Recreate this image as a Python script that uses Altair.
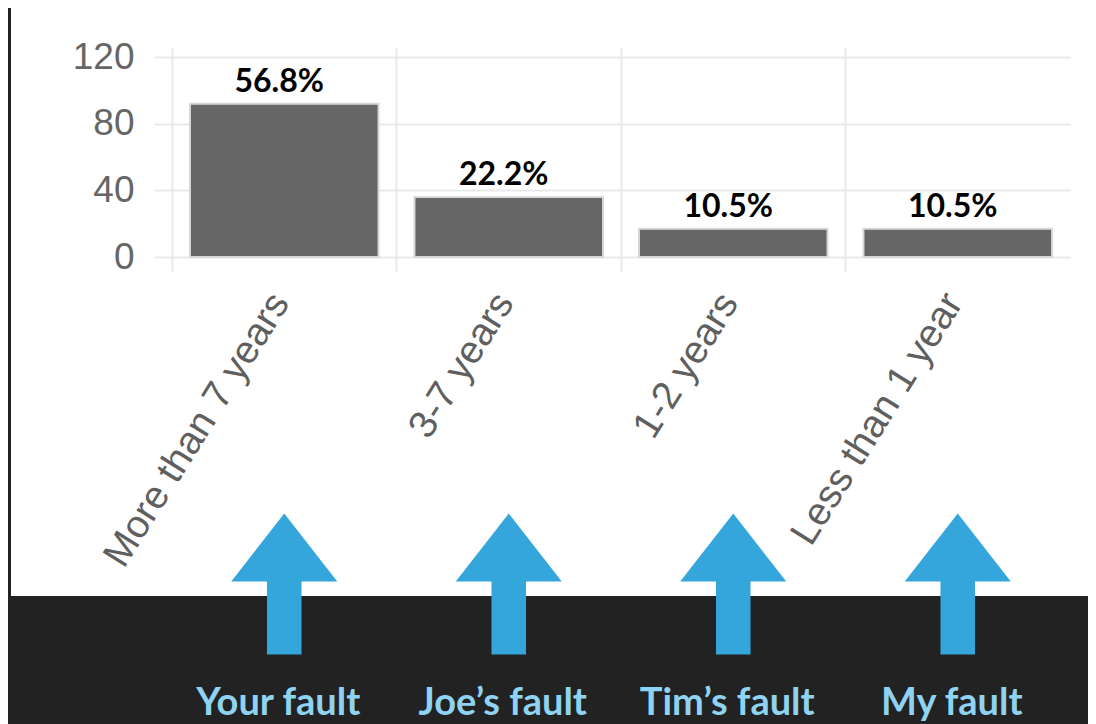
import altair as alt
import pandas as pd

# ---- data ----
periods = ["More than 7 years", "3-7 years", "1-2 years", "Less than 1 year"]
counts = [92, 36, 17, 17]
pct_labels = ["56.8%", "22.2%", "10.5%", "10.5%"]
blame = ["Your fault", "Joe\u2019s fault", "Tim\u2019s fault", "My fault"]
y_ticks = [0, 40, 80, 120]

df = pd.DataFrame({"period": periods, "count": counts, "pct": pct_labels, "blame": blame})
one = pd.DataFrame({"k": [0]})

# ---- styling ----
W, H = 916, 210
GRID = "#e9e9e9"
DARK = "#222222"
ARROW = "#35a6dc"
ARROW_TXT = "#8fd3f2"
ARROW_PATH = ("M0,-1 L0.752,-0.035 L0.245,-0.035 L0.245,1 "
              "L-0.245,1 L-0.245,-0.035 L-0.752,-0.035 Z")

x_scale = alt.Scale(range=[0, 898], paddingInner=0, paddingOuter=0)
y_scale = alt.Scale(domain=[0, 126], nice=False)

x_axis = alt.Axis(
    title=None, domain=False, grid=True, gridColor=GRID, gridWidth=2,
    ticks=True, tickSize=15, tickColor=GRID, tickWidth=2, bandPosition=0,
    labelAngle=-58, labelAlign="right", labelBaseline="middle",
    labelPadding=24, labelOffset=-4, labelFont="Liberation Sans",
    labelFontSize=39, labelColor="#5f5f5f", labelLimit=0, labelOverlap=False,
)
y_axis = alt.Axis(
    title=None, values=y_ticks, domain=False, grid=True, gridColor=GRID,
    gridWidth=2, tickSize=18, tickColor=GRID, tickWidth=2,
    labelFont="Liberation Sans", labelFontSize=37, labelColor="#666666",
    labelPadding=20,
)

x_enc = alt.X("period:N", sort=periods, scale=x_scale, axis=x_axis)

dark_bottom = alt.Chart(one).mark_rect(color=DARK).encode(
    x=alt.value(-164), x2=alt.value(W), y=alt.value(549), y2=alt.value(677)
)
dark_left = alt.Chart(one).mark_rect(color=DARK).encode(
    x=alt.value(-164), x2=alt.value(-161), y=alt.value(-39), y2=alt.value(549)
)

bars = alt.Chart(df).mark_bar(
    color="#666666", stroke="#d8d8d8", strokeWidth=2,
    width=alt.RelativeBandSize(0.84),
).encode(
    x=x_enc,
    y=alt.Y("count:Q", scale=y_scale, axis=y_axis),
)

pct = alt.Chart(df).mark_text(
    font="Lato", fontWeight="bold", fontSize=32, color="#000000",
    dy=-12, dx=-5, baseline="alphabetic",
).encode(x=x_enc, y=alt.Y("count:Q", scale=y_scale, axis=y_axis), text="pct:N")

arrows = alt.Chart(df).mark_point(
    shape=ARROW_PATH, size=19881, filled=True, color=ARROW, opacity=1,
    strokeWidth=0,
).encode(x=x_enc, y=alt.value(537))

arrow_txt = alt.Chart(df).mark_text(
    font="Lato", fontWeight="bold", fontSize=38, color=ARROW_TXT,
    baseline="alphabetic", dx=-6,
).encode(x=x_enc, y=alt.value(668), text="blame:N")

chart = alt.layer(dark_bottom, dark_left, bars, pct, arrows, arrow_txt).properties(
    width=W, height=H, background="white",
    padding={"left": 164, "top": 39, "right": 0, "bottom": 467},
    autosize=alt.AutoSizeParams(type="none"),
).configure_view(stroke=None)

chart.save("out.html", embed_options={"renderer": "svg", "actions": False})
